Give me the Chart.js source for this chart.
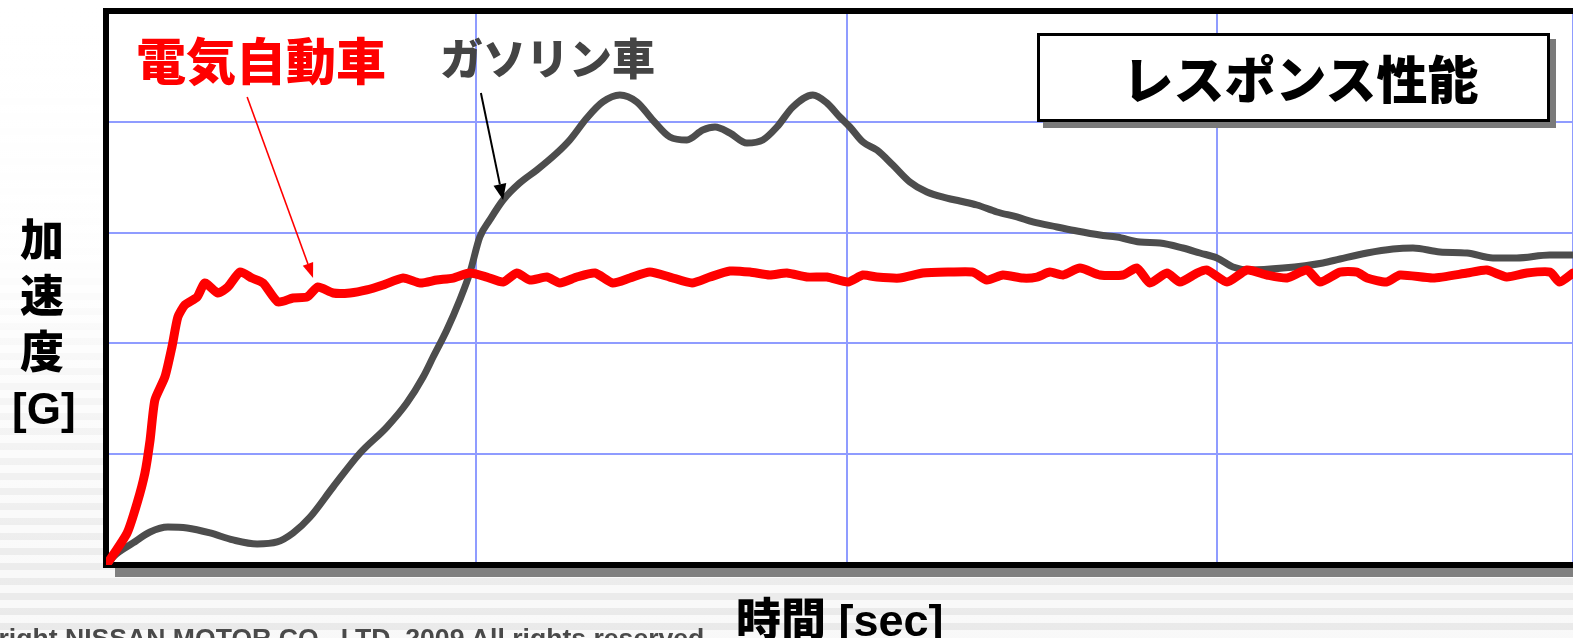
<!DOCTYPE html>
<html lang="ja">
<head>
<meta charset="utf-8">
<title>レスポンス性能</title>
<script src="https://cdn.jsdelivr.net/npm/chart.js@4/dist/chart.umd.min.js"></script>
<style>
  html, body { margin: 0; padding: 0; }
  body {
    width: 1573px; height: 638px; overflow: hidden; position: relative;
    background:
      linear-gradient(to bottom, rgba(255,255,255,1) 0%, rgba(255,255,255,0.95) 40%, rgba(255,255,255,0.35) 85%, rgba(255,255,255,0.2) 100%),
      repeating-linear-gradient(to bottom, #f7f7f7 0px, #f7f7f7 8px, #e4e4e4 8px, #e4e4e4 15px);
  }
  #wrap { position: absolute; left: 0; top: 0; width: 1573px; height: 638px; }
  .lbl { position: absolute; white-space: nowrap; font-weight: 700; line-height: 1; z-index: 2; }
  .cjk { font-family: "Noto Sans CJK JP", sans-serif; }
  .lat { font-family: "Liberation Sans", "Noto Sans CJK JP", sans-serif; }
  #ev { left: 136px; top: 33px; font-size: 50px; color: #ff0000; font-weight: 900; }
  #gas { left: 440px; top: 35px; font-size: 43px; color: #444444; font-weight: 900; }
  #ylab { left: 12px; top: 213px; width: 60px; text-align: center; font-size: 44px; line-height: 56px; color: #000; font-weight: 900; }
  #xlab { left: 736px; top: 598px; font-size: 45px; color: #000; font-weight: 900; }
  #copy { left: -68px; top: 625px; font-size: 26.6px; color: #4a4a4a; }
  #titlebox {
    position: absolute; left: 1037px; top: 33px; width: 507px; height: 83px;
    border: 3px solid #000; background: #fff; box-shadow: 6px 6px 0 #7a7a7a;
    z-index: 2; display: flex; align-items: center; justify-content: center;
  }
  #titlebox span { font-size: 51px; font-weight: 900; color: #000; line-height: 1; margin-left: 14px; }
</style>
</head>
<body>
<div id="wrap"><canvas id="chart"></canvas></div>

<div class="lbl cjk" id="ev">電気自動車</div>
<div class="lbl cjk" id="gas">ガソリン車</div>
<div class="lbl lat" id="ylab">加<br>速<br>度<br>[G]</div>
<div class="lbl lat" id="xlab">時間 [sec]</div>
<div class="lbl lat" id="copy">Copyright NISSAN MOTOR CO., LTD. 2009 All rights reserved</div>
<div id="titlebox"><span class="cjk">レスポンス性能</span></div>

<script>
// Time axis [sec] and acceleration [G] samples for each drivetrain
const evTime = [0.005, 0.057, 0.084, 0.105, 0.119, 0.132, 0.159, 0.178, 0.194, 0.213, 0.246, 0.267, 0.302, 0.329, 0.362, 0.394, 0.424, 0.464, 0.505, 0.543, 0.572, 0.613, 0.659, 0.704, 0.748, 0.802, 0.848, 0.893, 0.937, 0.982, 1.028, 1.072, 1.109, 1.144, 1.190, 1.225, 1.271, 1.320, 1.368, 1.414, 1.468, 1.522, 1.582, 1.630, 1.684, 1.738, 1.792, 1.838, 1.892, 1.946, 2.003, 2.043, 2.081, 2.143, 2.205, 2.278, 2.340, 2.378, 2.421, 2.475, 2.513, 2.548, 2.583, 2.629, 2.683, 2.745, 2.783, 2.818, 2.864, 2.899, 2.945, 2.972, 3.026, 3.080, 3.134, 3.188, 3.242, 3.277, 3.331, 3.377, 3.404, 3.457, 3.493, 3.582, 3.674, 3.727, 3.781, 3.835, 3.898, 3.924, 3.960];
const evAccel = [0.02, 0.289, 0.560, 0.830, 1.128, 1.489, 1.697, 1.968, 2.238, 2.347, 2.419, 2.545, 2.455, 2.509, 2.644, 2.590, 2.545, 2.374, 2.410, 2.419, 2.509, 2.455, 2.455, 2.482, 2.527, 2.590, 2.545, 2.572, 2.590, 2.635, 2.599, 2.554, 2.635, 2.572, 2.599, 2.545, 2.599, 2.635, 2.545, 2.590, 2.644, 2.599, 2.545, 2.599, 2.653, 2.644, 2.617, 2.635, 2.599, 2.599, 2.554, 2.617, 2.599, 2.590, 2.635, 2.644, 2.644, 2.572, 2.617, 2.590, 2.599, 2.644, 2.617, 2.680, 2.617, 2.617, 2.680, 2.545, 2.635, 2.554, 2.635, 2.662, 2.554, 2.662, 2.617, 2.590, 2.662, 2.554, 2.644, 2.644, 2.590, 2.554, 2.617, 2.590, 2.635, 2.662, 2.599, 2.635, 2.644, 2.554, 2.635];

const gasTime = [0.008, 0.019, 0.073, 0.119, 0.167, 0.219, 0.281, 0.343, 0.408, 0.462, 0.505, 0.551, 0.613, 0.686, 0.758, 0.812, 0.856, 0.883, 0.920, 0.955, 0.982, 1.009, 1.036, 1.072, 1.117, 1.163, 1.217, 1.252, 1.298, 1.341, 1.387, 1.433, 1.476, 1.522, 1.568, 1.611, 1.644, 1.684, 1.730, 1.773, 1.811, 1.854, 1.908, 1.946, 1.981, 2.008, 2.043, 2.081, 2.124, 2.170, 2.216, 2.270, 2.305, 2.351, 2.405, 2.459, 2.502, 2.567, 2.621, 2.683, 2.729, 2.791, 2.845, 2.907, 2.953, 2.999, 3.042, 3.088, 3.177, 3.285, 3.331, 3.404, 3.474, 3.528, 3.601, 3.674, 3.744, 3.808, 3.897, 3.960];
const gasAccel = [0.02, 0.072, 0.199, 0.298, 0.343, 0.334, 0.289, 0.226, 0.190, 0.208, 0.289, 0.433, 0.704, 1.011, 1.245, 1.462, 1.697, 1.877, 2.121, 2.392, 2.635, 2.960, 3.114, 3.294, 3.448, 3.565, 3.718, 3.836, 4.034, 4.179, 4.242, 4.179, 4.016, 3.863, 3.836, 3.926, 3.953, 3.899, 3.809, 3.836, 3.953, 4.134, 4.242, 4.170, 4.043, 3.953, 3.818, 3.745, 3.610, 3.457, 3.366, 3.312, 3.285, 3.249, 3.186, 3.141, 3.096, 3.051, 3.014, 2.978, 2.960, 2.915, 2.906, 2.861, 2.816, 2.771, 2.690, 2.662, 2.680, 2.726, 2.762, 2.816, 2.852, 2.861, 2.825, 2.816, 2.771, 2.771, 2.798, 2.798];

// Axis extents and grid step (no tick labels are printed)
const timeRange = [0, 3.96];
const accelRange = [0, 5];
const gridStep = 1;

// Callout arrows, in data units: [tailTime, tailAccel, tipTime, tipAccel]
const evPointer = [0.381, 4.224, 0.559, 2.59];
const gasPointer = [1.012, 4.26, 1.072, 3.294];

const toPoints = (xs, ys) => xs.map((x, i) => ({ x: x, y: ys[i] }));

// White plot face under the grid
const plotFace = {
  id: 'plotFace',
  beforeDraw(chart) {
    const { ctx, chartArea: a } = chart;
    ctx.save();
    ctx.fillStyle = '#ffffff';
    ctx.fillRect(a.left, a.top, a.right - a.left, a.bottom - a.top);
    ctx.restore();
  }
};

// Heavy black frame (left, top, bottom) with a grey drop shadow under the base line
const plotFrame = {
  id: 'plotFrame',
  beforeDatasetsDraw(chart) {
    const { ctx, chartArea: a } = chart;
    ctx.save();
    ctx.fillStyle = '#808080';
    ctx.fillRect(a.left + 9, a.bottom + 3, a.right - a.left, 9);
    ctx.strokeStyle = '#000000';
    ctx.lineWidth = 6;
    ctx.lineCap = 'square';
    ctx.beginPath();
    ctx.moveTo(a.right + 6, a.top);
    ctx.lineTo(a.left, a.top);
    ctx.lineTo(a.left, a.bottom);
    ctx.lineTo(a.right + 6, a.bottom);
    ctx.stroke();
    ctx.restore();
  }
};

// Thin arrows pointing from each label to its curve
function drawPointer(chart, p, color, width, headLen, headHalf) {
  const { ctx, scales } = chart;
  const x0 = scales.x.getPixelForValue(p[0]);
  const y0 = scales.y.getPixelForValue(p[1]);
  const x1 = scales.x.getPixelForValue(p[2]);
  const y1 = scales.y.getPixelForValue(p[3]);
  const ang = Math.atan2(y1 - y0, x1 - x0);
  const bx = x1 - headLen * Math.cos(ang);
  const by = y1 - headLen * Math.sin(ang);
  ctx.save();
  ctx.strokeStyle = color;
  ctx.fillStyle = color;
  ctx.lineWidth = width;
  ctx.beginPath();
  ctx.moveTo(x0, y0);
  ctx.lineTo(bx, by);
  ctx.stroke();
  ctx.beginPath();
  ctx.moveTo(x1, y1);
  ctx.lineTo(bx + headHalf * Math.sin(ang), by - headHalf * Math.cos(ang));
  ctx.lineTo(bx - headHalf * Math.sin(ang), by + headHalf * Math.cos(ang));
  ctx.closePath();
  ctx.fill();
  ctx.restore();
}

const pointers = {
  id: 'pointers',
  afterDatasetsDraw(chart) {
    drawPointer(chart, evPointer, '#ff0000', 1.6, 15, 5.5);
    drawPointer(chart, gasPointer, '#000000', 2, 16, 6.5);
  }
};

new Chart(document.getElementById('chart'), {
  type: 'line',
  data: {
    datasets: [
      {
        label: '電気自動車',
        data: toPoints(evTime, evAccel),
        borderColor: '#ff0000',
        borderWidth: 9,
        pointRadius: 0,
        tension: 0.2,
        borderJoinStyle: 'round',
        borderCapStyle: 'round'
      },
      {
        label: 'ガソリン車',
        data: toPoints(gasTime, gasAccel),
        borderColor: '#4d4d4d',
        borderWidth: 7,
        pointRadius: 0,
        cubicInterpolationMode: 'monotone',
        borderJoinStyle: 'round',
        borderCapStyle: 'round'
      }
    ]
  },
  options: {
    responsive: true,
    maintainAspectRatio: false,
    animation: false,
    events: [],
    layout: { padding: { left: 106, top: 11, right: 0, bottom: 73 } },
    plugins: { legend: { display: false }, tooltip: { enabled: false }, title: { display: false } },
    scales: {
      x: {
        type: 'linear',
        min: timeRange[0],
        max: timeRange[1],
        border: { display: false },
        ticks: { display: false, stepSize: gridStep },
        grid: { color: '#8f9cff', lineWidth: 2, drawTicks: false }
      },
      y: {
        min: accelRange[0],
        max: accelRange[1],
        border: { display: false },
        ticks: { display: false, stepSize: gridStep },
        grid: { color: '#8f9cff', lineWidth: 2, drawTicks: false }
      }
    }
  },
  plugins: [plotFace, plotFrame, pointers]
});
</script>
</body>
</html>
